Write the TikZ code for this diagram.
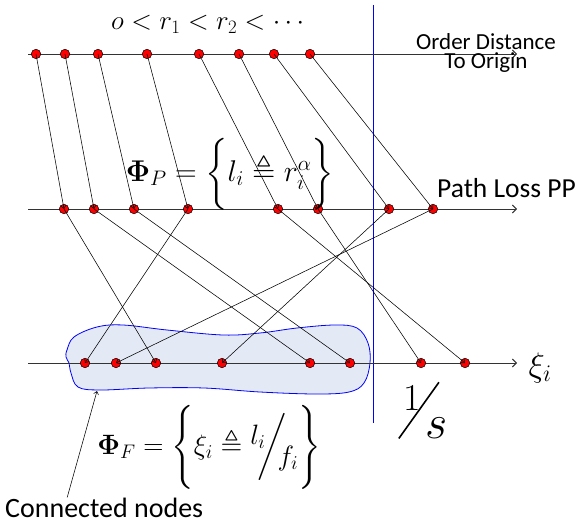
\RequirePackage{fix-cm}
\documentclass[tikz,border=0pt]{standalone}
\usepackage{amsmath}
\usepackage{amssymb}
\usepackage{fontspec}
\newfontfamily\calibri{Carlito}
\usepackage{tikz}
\usetikzlibrary{arrows.meta}
\definecolor{cluster}{RGB}{228,234,245}

\begin{document}
\begin{tikzpicture}[
  x=1pt, y=-1pt,
  dot/.style={circle, draw=black, fill=red, inner sep=0pt, minimum size=9.5pt, line width=0.5pt},
  axis/.style={-{Straight Barb[length=4pt,width=8pt]}, line width=0.9pt, black!80},
  link/.style={-{Straight Barb[length=3pt,width=5pt]}, line width=0.55pt},
  lbl/.style={inner sep=0pt, font=\calibri},
  eq/.style={inner sep=0pt}
]
\useasboundingbox (0,0) rectangle (580,526);

% connected cluster and the 1/s cut
\draw[blue, line width=0.8pt, fill=cluster] plot[smooth cycle, tension=0.6] coordinates {
  (67,350) (74,337) (97,327) (123,325) (167,330) (223,335) (260,333) (297,328)
  (335,325) (357,328) (368,343) (370,363) (364,383) (349,392) (316,394) (260,392)
  (204,388) (149,388) (100,390) (78,387) (71,373) (69,363) (66,357)};
\coordinate (cuttop) at (373,5);
\coordinate (cutbot) at (373,423);
\draw[blue, line width=0.9pt] (cuttop) -- (cutbot);

% the three lines
\coordinate (o1) at (28,54);  \coordinate (e1) at (517,54);
\coordinate (o2) at (28,209); \coordinate (e2) at (517,209);
\coordinate (o3) at (28,363); \coordinate (e3) at (517,363);
\draw[axis] (o1) -- (e1);
\draw[axis] (o2) -- (e2);
\draw[axis] (o3) -- (e3);

\foreach \x [count=\i] in {36,65,98,147,199,239,274,310}
  \node[dot] (t\i) at (\x,54) {};
\foreach \x [count=\i] in {64,94,134,188,278,318,389,433}
  \node[dot] (m\i) at (\x,209) {};
\foreach \x [count=\i] in {85,116,156,222,310,350,421,465}
  \node[dot] (b\i) at (\x,363) {};

\foreach \i in {1,...,8}
  \draw[link] (t\i.center) -- (m\i.center);
\foreach \a/\b in {1/3,2/5,3/6,4/1,5/8,6/7,7/4,8/2}
  \draw[link] (m\a.center) -- (b\b.center);

% labels
\node[eq] (order) at (210,24) {\fontsize{27}{27}\selectfont$o<r_1<r_2<\cdots$};
\node[lbl, align=center, font=\calibri\fontsize{23}{19}\selectfont] (ordlbl) at (486,53) {Order Distance\\To Origin};
\node[lbl, anchor=base west, font=\calibri\fontsize{27.5}{30}\selectfont] (pllbl) at (437,198) {Path Loss PP};
\node[eq] (phip) at (230,174) {\fontsize{30}{30}\selectfont$\boldsymbol{\Phi}_{P}=\biggl\{ l_i \triangleq r_i^{\alpha}\biggr\}$};
\node[eq] (xi) at (540,368) {\fontsize{34}{34}\selectfont$\xi_i$};
\node[eq] (phif) at (209,447) {\fontsize{28}{28}\selectfont$\boldsymbol{\Phi}_{F}=\Biggl\{\xi_i\triangleq \raisebox{0.35em}{$l_i$}\mkern-5mu\bigg/\mkern-6mu\raisebox{-0.4em}{$f_i$}\Biggr\}$};
\node[eq, anchor=base west] (recip) at (398,417) {\rlap{\raisebox{-21pt}{\rotatebox{-35.5}{\rule{1.6pt}{69pt}}}}\kern5pt\rlap{\fontsize{38}{38}\selectfont\raisebox{7pt}{$1$}}\kern22pt{\fontsize{48}{48}\selectfont\raisebox{-21pt}{$s$}}};
\node[lbl, anchor=base west, font=\calibri\fontsize{28}{30}\selectfont] (cnlbl) at (5,517) {Connected nodes};
\coordinate (clusterpt) at (97,391);
\draw[link] ([xshift=-37pt]cnlbl.north) -- (clusterpt);
\end{tikzpicture}
\end{document}
